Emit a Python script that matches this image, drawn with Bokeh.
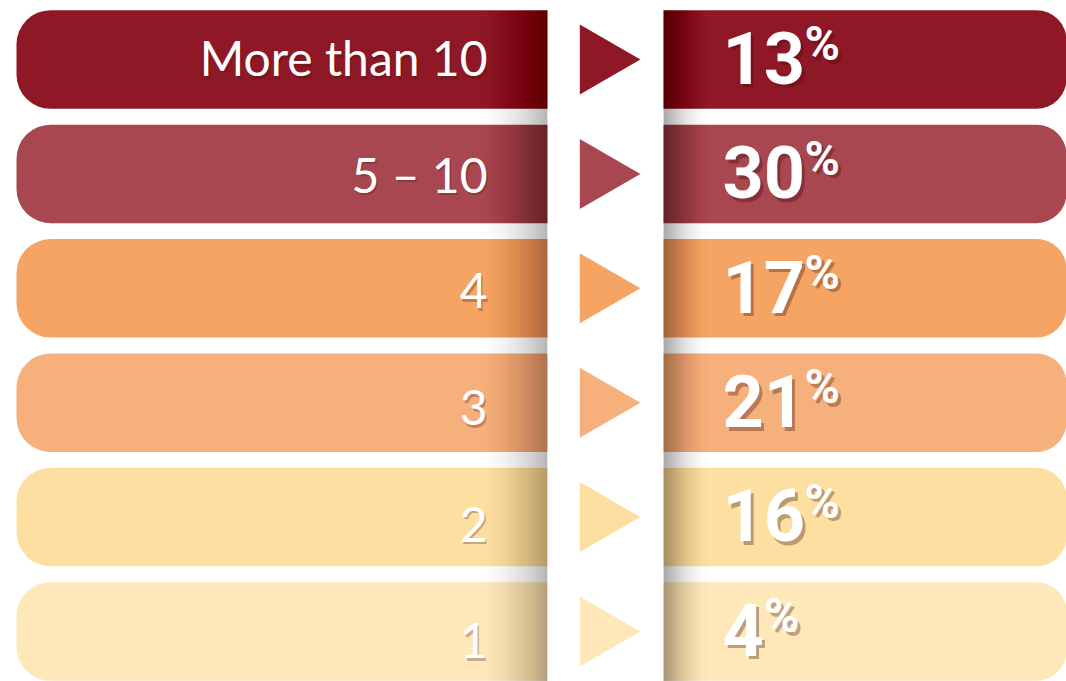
import numpy as np
from bokeh.plotting import figure
from bokeh.models import Range1d, ColumnDataSource
from bokeh.core.properties import value
from bokeh.embed import file_html
from bokeh.resources import INLINE

# ---- data ----
categories = ["More than 10", "5 – 10", "4", "3", "2", "1"]
percentages = [13, 30, 17, 21, 16, 4]
colors = ["#8F1826", "#A8474F", "#F5A463", "#F6B07B", "#FDE0A1", "#FEE8B9"]

# ---- layout ----
W, H = 1066, 681
ROW = 114.4                    # pixels per row
TOP = -59.0 / ROW              # data value at the top edge
BAR_H = 98.5 / ROW
LABEL_PITCH = 116.6 / ROW      # labels sit on a slightly wider pitch
LABEL_BASE = 16.0 / ROW

rows = list(range(len(categories)))
digit_w = 40.5
src = ColumnDataSource(dict(
    y=rows,
    label_y=[LABEL_BASE + i * LABEL_PITCH for i in rows],
    cat=categories,
    pct=[str(v) for v in percentages],
    sign=["%"] * len(percentages),
    sign_x=[722 + len(str(v)) * digit_w + 1 for v in percentages],
    color=colors,
))

p = figure(width=W, height=H,
           x_range=Range1d(0, W),
           y_range=Range1d(TOP + H / ROW, TOP),
           output_backend="svg", toolbar_location=None, min_border=0)
p.axis.visible = False
p.grid.visible = False
p.outline_line_color = None
p.background_fill_color = "white"
p.border_fill_color = "white"

# bars
p.hbar(y="y", left=16, right=547, height=BAR_H, fill_color="color",
       line_color=None, border_radius=(34, 0, 0, 34), source=src)
p.hbar(y="y", left=663, right=1067, height=BAR_H, fill_color="color",
       line_color=None, border_radius=(0, 30, 30, 0), source=src)

# shadows cast by the central white column (nested strips -> smooth gradient)
y_top = -BAR_H / 2
y_bot = TOP + H / ROW
n = 40
xs = np.linspace(478, 547, n + 1)[:-1]
t = (xs - 478) / (547 - 478)
A = 0.26 * t ** 1.6
prev = np.concatenate([[0.0], A[:-1]])
a = 1 - (1 - A) / (1 - prev)
a[0] = A[0]
p.quad(left=xs, right=[547] * n, top=[y_top] * n, bottom=[y_bot] * n,
       fill_color="black", fill_alpha=np.clip(a, 0, 1), line_color=None)
xr = np.linspace(663, 712, n + 1)[1:][::-1]
tr = (712 - xr) / (712 - 663)
Ar = 0.32 * tr ** 1.7
prevr = np.concatenate([[0.0], Ar[:-1]])
ar = 1 - (1 - Ar) / (1 - prevr)
ar[0] = Ar[0]
p.quad(left=[663] * n, right=xr, top=[y_top] * n, bottom=[y_bot] * n,
       fill_color="black", fill_alpha=np.clip(ar, 0, 1), line_color=None)

# triangles
p.scatter(x=599.5, y="y", size=70, marker="triangle", angle=-np.pi / 2,
          fill_color="color", line_color=None, source=src)

# category labels (with soft shadow)
lab_font = value("Lato")
p.text(x=487, y="label_y", text="cat", text_align="right", text_baseline="alphabetic",
       x_offset=1.5, y_offset=-15.3, text_font=lab_font, text_font_size="48px",
       text_color="#4a120c", text_alpha=0.3, source=src)
p.text(x=487, y="label_y", text="cat", text_align="right", text_baseline="alphabetic",
       y_offset=-17.8, text_font=lab_font, text_font_size="48px",
       text_color="white", source=src)

# percentages
pct_font = value("Roboto")
for dx, dy, col, al in [(3, 3.5, "#3a0a05", 0.33), (0, 0, "white", 1.0)]:
    p.text(x=722, y="y", text="pct", text_align="left", text_baseline="alphabetic",
           x_offset=dx, y_offset=-1.6 + dy, text_font=pct_font, text_font_style="bold",
           text_font_size="72px", text_color=col, text_alpha=al, source=src)
    p.text(x="sign_x", y="y", text="sign", text_align="left", text_baseline="alphabetic",
           x_offset=dx, y_offset=-15.8 + dy, text_font=pct_font, text_font_style="bold",
           text_font_size="48px", text_color=col, text_alpha=al, source=src)

open("out.html", "w").write(file_html(p, INLINE))
